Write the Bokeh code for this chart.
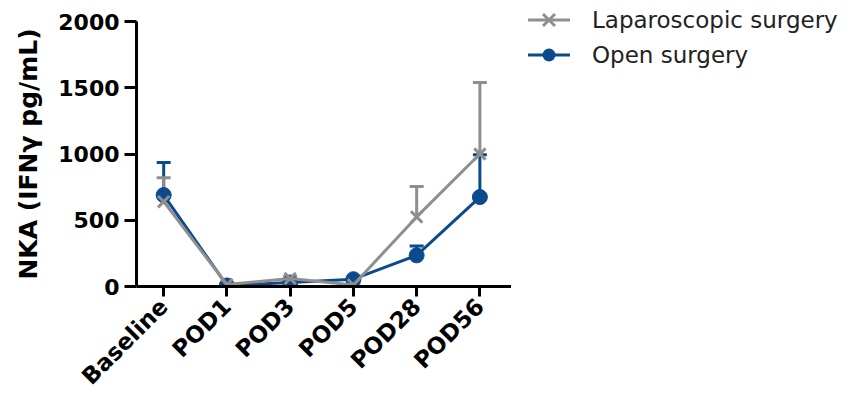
import math
from bokeh.plotting import figure
from bokeh.layouts import row
from bokeh.models import ColumnDataSource, Whisker, TeeHead, FixedTicker, Range1d, Div
from bokeh.embed import file_html
from bokeh.resources import INLINE

categories = ["Baseline", "POD1", "POD3", "POD5", "POD28", "POD56"]
lap_mean = [640, 15, 60, 12, 525, 1000]
lap_err = [180, 10, 15, 8, 230, 540]
open_mean = [690, 8, 30, 55, 235, 675]
open_err = [245, 10, 12, 10, 70, 320]
y_ticks = [0, 500, 1000, 1500, 2000]
series_names = ["Laparoscopic surgery", "Open surgery"]

GRAY = "#8f8f8f"
BLUE = "#0b4a8c"
FONT = "DejaVu Sans"

xs = list(range(len(categories)))
lap = ColumnDataSource(dict(x=xs, y=lap_mean, top=[m + e for m, e in zip(lap_mean, lap_err)]))
opn = ColumnDataSource(dict(x=xs, y=open_mean, top=[m + e for m, e in zip(open_mean, open_err)]))

p = figure(width=511, height=402, output_backend="svg", toolbar_location=None,
           x_range=Range1d(-0.43, 5.5), y_range=Range1d(0, 2000),
           min_border_left=136, min_border_right=0, min_border_top=21, min_border_bottom=116)
p.outline_line_color = None
p.grid.visible = False

# open surgery (drawn first, underneath)
p.add_layout(Whisker(base="x", upper="top", lower="y", source=opn, dimension="height",
                     line_color=BLUE, line_width=3,
                     upper_head=TeeHead(size=14, line_color=BLUE, line_width=3), lower_head=None))
p.line("x", "y", source=opn, line_color=BLUE, line_width=3)
p.scatter("x", "y", source=opn, marker="circle", size=15, fill_color=BLUE, line_color=BLUE)

# laparoscopic surgery
p.add_layout(Whisker(base="x", upper="top", lower="y", source=lap, dimension="height",
                     line_color=GRAY, line_width=3,
                     upper_head=TeeHead(size=14, line_color=GRAY, line_width=3), lower_head=None))
p.line("x", "y", source=lap, line_color=GRAY, line_width=3)
p.scatter("x", "y", source=lap, marker="x", size=16, line_color=GRAY, line_width=3)

# axes
p.xaxis.ticker = FixedTicker(ticks=xs)
p.xaxis.major_label_overrides = {i: c for i, c in enumerate(categories)}
p.xaxis.major_label_orientation = math.pi / 4
p.yaxis.ticker = FixedTicker(ticks=y_ticks)
p.yaxis.axis_label = "NKA (IFNγ pg/mL)"
for ax in (p.xaxis, p.yaxis):
    ax.axis_line_width = 3
    ax.axis_line_color = "black"
    ax.major_tick_line_width = 3
    ax.major_tick_line_color = "black"
    ax.major_tick_in = 0
    ax.minor_tick_line_color = None
    ax.major_label_text_font = FONT
    ax.major_label_text_font_style = "bold"
    ax.major_label_text_color = "black"
p.yaxis.major_label_text_font_size = "22px"
p.xaxis.major_label_text_font_size = "23px"
p.yaxis.major_tick_out = 12
p.xaxis.major_tick_out = 10
p.yaxis.major_label_standoff = 5
p.xaxis.major_label_standoff = 6
p.yaxis.axis_label_text_font = FONT
p.yaxis.axis_label_text_font_style = "bold"
p.yaxis.axis_label_text_font_size = "25px"
p.yaxis.axis_label_text_color = "black"
p.yaxis.axis_label_standoff = 12

# legend (HTML beside the plot)
x_icon = (f'<svg width="42" height="30" style="flex:none">'
          f'<line x1="0" y1="15" x2="42" y2="15" stroke="{GRAY}" stroke-width="3"/>'
          f'<line x1="15" y1="9" x2="27" y2="21" stroke="{GRAY}" stroke-width="3"/>'
          f'<line x1="15" y1="21" x2="27" y2="9" stroke="{GRAY}" stroke-width="3"/></svg>')
o_icon = (f'<svg width="42" height="30" style="flex:none">'
          f'<line x1="0" y1="15" x2="42" y2="15" stroke="{BLUE}" stroke-width="3"/>'
          f'<circle cx="21" cy="15" r="6.5" fill="{BLUE}"/></svg>')
item_style = ("position:absolute;left:17px;height:30px;display:flex;align-items:center;"
              "gap:22px;white-space:nowrap;")
html = (f'<div style="position:relative;width:345px;height:402px;font-family:\'{FONT}\';'
        f'font-size:23px;color:#222222;">'
        f'<div style="{item_style}top:5px;">{x_icon}<span>{series_names[0]}</span></div>'
        f'<div style="{item_style}top:40px;">{o_icon}<span>{series_names[1]}</span></div>'
        f'</div>')
legend_div = Div(text=html, width=345, height=402, margin=0)

layout = row(p, legend_div)
open("out.html", "w").write(file_html(layout, INLINE))
